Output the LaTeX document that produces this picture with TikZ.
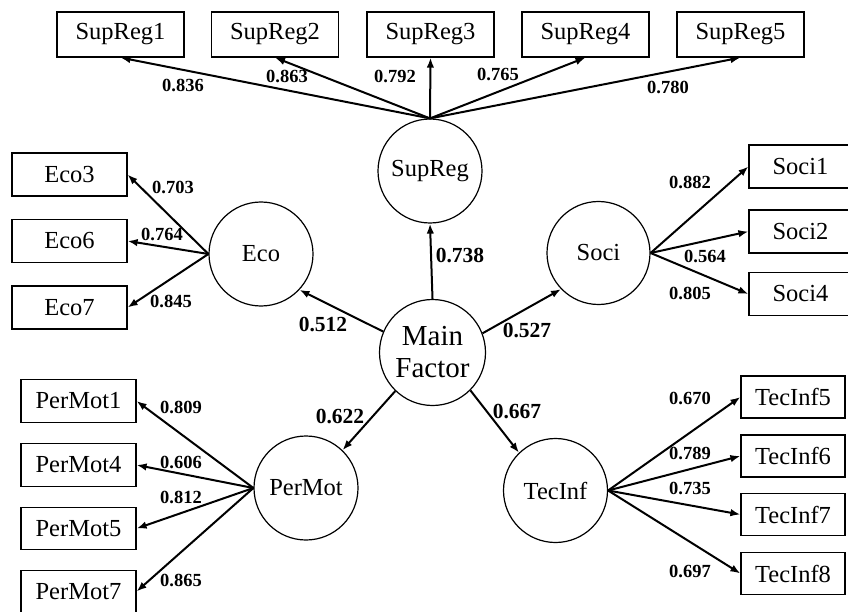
\documentclass[tikz,border=0pt]{standalone}
\usepackage{fontspec}
\setmainfont{Liberation Serif}
\usetikzlibrary{arrows.meta}
\begin{document}
\begin{tikzpicture}[x=1pt,y=-1pt,
  obs/.style={draw, line width=1.2pt, rectangle, inner sep=0pt, font=\fontsize{24.5}{27}\selectfont},
  lat/.style={draw, line width=1.2pt, circle, inner sep=0pt, minimum size=104pt, font=\fontsize{24.5}{27}\selectfont},
  pth/.style={line width=2pt, -{Latex[length=10pt,width=7.5pt]}},
  lab/.style={inner sep=0pt, font=\fontsize{18.5}{20}\selectfont\bfseries},
  labb/.style={inner sep=0pt, font=\fontsize{21.5}{24}\selectfont\bfseries}]
\useasboundingbox (0,0) rectangle (848,612);
\fill[white] (0,0) rectangle (848,612);

% latent variables
\node[lat] (sup) at (430,171) {SupReg};
\node[lat] (eco) at (261,254) {Eco};
\node[lat, minimum size=103pt] (soc) at (598.5,253) {Soci};
\node[lat, minimum size=106pt, align=center, font=\fontsize{29}{32}\selectfont] (main) at (432.5,352.5) {Main\\Factor};
\node[lat] (per) at (306,488) {PerMot};
\node[lat] (tec) at (555.5,490.5) {TecInf};

% SupReg indicators
\foreach \i/\x in {1/120.5,2/275,3/430.5,4/585.5,5/740.5}
  \node[obs, minimum width=127pt, minimum height=45pt] (s\i) at (\x,34.5) {SupReg\i};
% Eco indicators
\foreach \i/\y in {3/174.5,6/241,7/307.5}
  \node[obs, minimum width=115pt, minimum height=43pt] (e\i) at (69.5,\y) {Eco\i};
% Soci indicators
\foreach \i/\y in {1/166.5,2/231.5,4/294}
  \node[obs, minimum width=103pt, minimum height=43pt] (o\i) at (800.5,\y) {Soci\i};
% PerMot indicators
\foreach \i/\y in {1/401,4/465,5/528.5,7/591.5}
  \node[obs, minimum width=115pt, minimum height=42.5pt] (p\i) at (78.5,\y) {PerMot\i};
% TecInf indicators
\foreach \i/\y in {5/397,6/456,7/514.5,8/573.5}
  \node[obs, minimum width=104pt, minimum height=42pt] (t\i) at (793,\y) {TecInf\i};

% structural paths
\draw[pth] (main.90) -- (sup.270);
\draw[pth] (main.157) -- (eco.-43);
\draw[pth] (main.21.5) -- (soc.224);
\draw[pth] (main.226.5) -- (per.46);
\draw[pth] (main.-45) -- (tec.134);

% measurement paths
\foreach \i in {1,...,5} \draw[pth] (sup.north) -- (s\i.south);
\foreach \i in {3,6,7} \draw[pth] (eco.west) -- (e\i.east);
\foreach \i in {1,2,4} \draw[pth] (soc.east) -- (o\i.west);
\foreach \i in {1,4,5,7} \draw[pth] (per.west) -- (p\i.east);
\foreach \i in {5,6,7,8} \draw[pth] (tec.east) -- (t\i.west);

% labels
\node[lab] (ls1) at (183,85) {0.836};
\node[lab] (ls2) at (287,76) {0.863};
\node[lab] (ls3) at (395,76) {0.792};
\node[lab] (ls4) at (498,74) {0.765};
\node[lab] (ls5) at (668,87) {0.780};
\node[lab] (le3) at (173,187) {0.703};
\node[lab] (le6) at (162,234) {0.764};
\node[lab] (le7) at (171,301) {0.845};
\node[lab] (lo1) at (690,182) {0.882};
\node[lab] (lo2) at (705,256) {0.564};
\node[lab] (lo4) at (690,293) {0.805};
\node[lab] (lp1) at (181,407) {0.809};
\node[lab] (lp4) at (181,462) {0.606};
\node[lab] (lp5) at (181,497) {0.812};
\node[lab] (lp7) at (181,580) {0.865};
\node[lab] (lt5) at (690,398) {0.670};
\node[lab] (lt6) at (690,453) {0.789};
\node[lab] (lt7) at (690,488) {0.735};
\node[lab] (lt8) at (690,571) {0.697};
\node[labb] (lm1) at (460,256) {0.738};
\node[labb] (lm2) at (323,325) {0.512};
\node[labb] (lm3) at (527,331) {0.527};
\node[labb] (lm4) at (340,417) {0.622};
\node[labb] (lm5) at (517,412) {0.667};
\end{tikzpicture}
\end{document}
